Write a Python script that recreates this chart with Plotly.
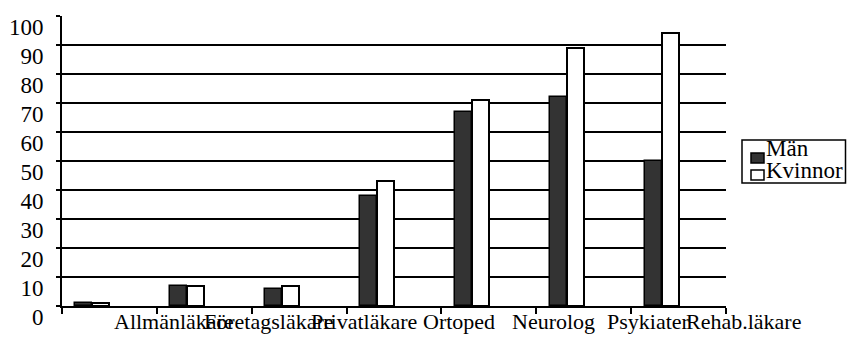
import plotly.graph_objects as go

categories = ["Allmänläkare", "Företagsläkare", "Privatläkare", "Ortoped",
              "Neurolog", "Psykiater", "Rehab.läkare"]
man = [1, 7, 6, 38, 67, 72, 50]
kvinnor = [1, 7, 7, 43, 71, 89, 94]
y_ticks = list(range(0, 101, 10))
series_names = ["Män", "Kvinnor"]
series_fill = ["#333333", "white"]

FONT = "Liberation Serif, Times New Roman, serif"
W, H = 847, 341
ML, MR, MT, MB = 62, 121, 16, 35
PW, PH = W - ML - MR, H - MT - MB


def px_x(p):
    return (p - ML) / PW


def px_y(p):
    return (H - MB - p) / PH


n = len(categories)
x_idx = list(range(n))
x_range = [-0.5, n - 0.5]
bar_w = 0.179
label_shift = 0.68  # category labels sit right of the bar groups


def data_to_paper(x):
    return (x - x_range[0]) / (x_range[1] - x_range[0])


fig = go.Figure()
fig.add_trace(go.Bar(
    x=x_idx, y=man, name=series_names[0], width=bar_w, offset=-2 * bar_w,
    marker=dict(color=series_fill[0], line=dict(color="black", width=1.5)),
    showlegend=False,
))
fig.add_trace(go.Bar(
    x=x_idx, y=kvinnor, name=series_names[1], width=bar_w, offset=-bar_w,
    marker=dict(color=series_fill[1], line=dict(color="black", width=2)),
    showlegend=False,
))

annotations = []
for i, lab in zip(x_idx, categories):
    annotations.append(dict(
        x=data_to_paper(i + label_shift), xref="paper", y=0, yref="paper",
        yanchor="top", xanchor="center",
        yshift=-1, text=lab, showarrow=False,
        font=dict(family=FONT, size=22, color="black"),
    ))

# legend (box + swatches + text)
shapes = [dict(type="rect", xref="paper", yref="paper",
               x0=px_x(742), x1=px_x(845.5), y0=px_y(183), y1=px_y(140),
               line=dict(color="black", width=1.5), fillcolor="white", layer="above")]
leg_rows = [(153, 163, 148), (170, 180, 170)]
for name, fill, (t, b, c) in zip(series_names, series_fill, leg_rows):
    shapes.append(dict(type="rect", xref="paper", yref="paper",
                       x0=px_x(751), x1=px_x(764), y0=px_y(b), y1=px_y(t),
                       line=dict(color="black", width=1.5), fillcolor=fill, layer="above"))
    annotations.append(dict(
        x=px_x(764), xref="paper", y=px_y(c), yref="paper",
        xanchor="left", yanchor="middle", text=name, showarrow=False,
        font=dict(family=FONT, size=23, color="black"),
    ))

fig.update_layout(
    width=W, height=H, autosize=False,
    margin=dict(l=ML, r=MR, t=MT, b=MB, autoexpand=False),
    paper_bgcolor="white", plot_bgcolor="white",
    font=dict(family=FONT, size=22, color="black"),
    showlegend=False,
    bargap=0,
    annotations=annotations,
    shapes=shapes,
)
fig.update_xaxes(
    range=x_range,
    showticklabels=False, ticks="", showgrid=False, zeroline=False,
    showline=True, linecolor="black", linewidth=2,
    minor=dict(tickmode="linear", tick0=-0.5, dtick=1, ticks="outside",
               ticklen=6, tickwidth=2, tickcolor="black", showgrid=False),
    automargin=False,
)
fig.update_yaxes(
    range=[0, 100], tickmode="array", tickvals=y_ticks,
    ticks="outside", ticklen=4, tickwidth=2, tickcolor="black",
    showgrid=True, gridcolor="black", gridwidth=2, zeroline=False,
    showline=True, linecolor="black", linewidth=2,
    ticklabelshift=11, ticklabelstandoff=8,
    tickfont=dict(family=FONT, size=23, color="black"),
    automargin=False,
)

# remove the browser's default 8px body margin so the figure sits at (0, 0)
fig.write_html(
    "out.html",
    config={"displayModeBar": False},
    post_script="document.body.style.margin='0';document.body.style.overflow='hidden';",
)
